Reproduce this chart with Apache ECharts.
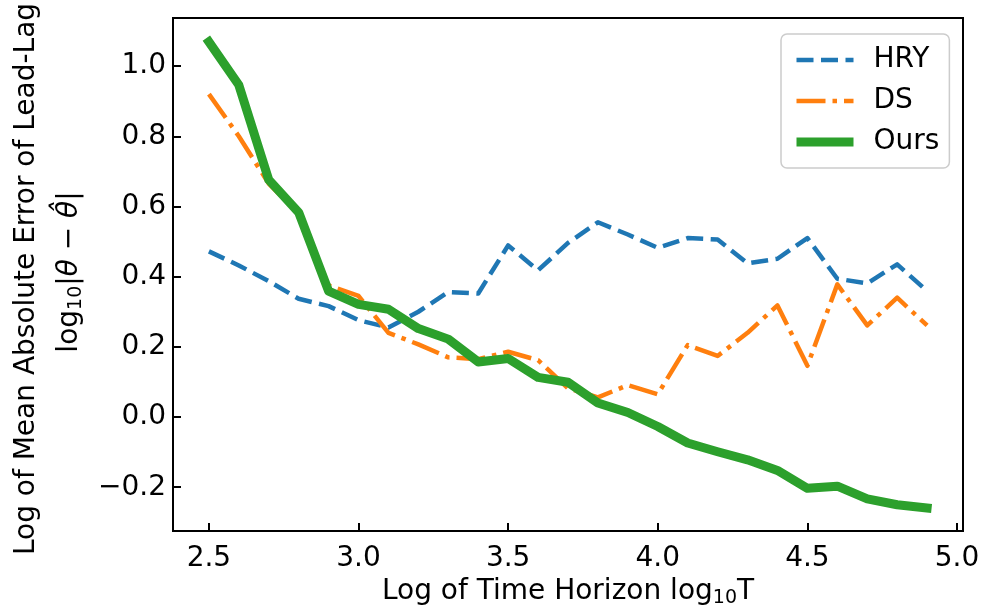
<!DOCTYPE html>
<html>
<head>
<meta charset="utf-8">
<script src="https://cdn.jsdelivr.net/npm/echarts@6/dist/echarts.min.js"></script>
<style>
html,body{margin:0;padding:0;background:#fff;}
#chart{width:984px;height:613px;}
</style>
</head>
<body>
<div id="chart"></div>
<script>
// ---- data ----
const xValues = [2.5, 2.6, 2.7, 2.8, 2.9, 3.0, 3.1, 3.2, 3.3, 3.4, 3.5, 3.6, 3.7, 3.8, 3.9, 4.0, 4.1, 4.2, 4.3, 4.4, 4.5, 4.6, 4.7, 4.8, 4.9];
const hry  = [0.472, 0.432, 0.387, 0.337, 0.316, 0.276, 0.255, 0.300, 0.356, 0.352, 0.489, 0.418, 0.496, 0.555, 0.520, 0.482, 0.510, 0.506, 0.438, 0.451, 0.510, 0.394, 0.381, 0.435, 0.359];
const ds   = [0.920, 0.800, 0.665, 0.580, 0.375, 0.345, 0.240, 0.207, 0.170, 0.165, 0.186, 0.162, 0.082, 0.056, 0.091, 0.065, 0.205, 0.174, 0.240, 0.318, 0.146, 0.378, 0.261, 0.340, 0.261];
const ours = [1.069, 0.946, 0.676, 0.583, 0.359, 0.321, 0.307, 0.252, 0.222, 0.157, 0.167, 0.113, 0.099, 0.040, 0.013, -0.027, -0.074, -0.099, -0.122, -0.152, -0.203, -0.197, -0.233, -0.250, -0.259];
const xTicks = [2.5, 3.0, 3.5, 4.0, 4.5, 5.0];
const yTicks = [-0.2, 0.0, 0.2, 0.4, 0.6, 0.8, 1.0];
const seriesNames = ['HRY', 'DS', 'Ours'];

const FONT = 'DejaVu Sans';
const FS = 28;
const pair = (ys) => xValues.map((x, i) => [x, ys[i]]);
const fmt = (v) => {
  if (Math.abs(v) < 1e-9) return '0.0';
  return v.toFixed(1).replace('-', '\u2212');
};

const styles = {
  HRY:  {color: '#1f77b4', width: 4.5, type: [17, 7.5], cap: 'butt', join: 'round'},
  DS:   {color: '#ff7f0e', width: 4.5, type: [29, 7, 4.5, 7], cap: 'butt', join: 'round'},
  Ours: {color: '#2ca02c', width: 9, type: 'solid', cap: 'square', join: 'round'}
};

const chart = echarts.init(document.getElementById('chart'), null, {renderer: 'canvas'});
chart.setOption({
  animation: false,
  backgroundColor: '#ffffff',
  grid: {
    left: 173, right: 21, top: 18, bottom: 81,
    show: true, borderColor: '#000', borderWidth: 2, backgroundColor: 'transparent'
  },
  xAxis: {
    type: 'value',
    min: 2.38, max: 5.02,
    splitLine: {show: false},
    axisLine: {show: true, onZero: false, lineStyle: {color: '#000', width: 2}},
    axisTick: {show: true, inside: true, length: 8, lineStyle: {color: '#000', width: 2}, customValues: xTicks},
    axisLabel: {
      customValues: xTicks, margin: 14,
      color: '#000', fontFamily: FONT, fontSize: FS,
      formatter: (v) => v.toFixed(1)
    },
    name: '{a|Log of Time Horizon log}{s|10}{a|T}',
    nameLocation: 'middle', nameGap: 42,
    nameTextStyle: {
      rich: {
        a: {fontFamily: FONT, fontSize: FS, color: '#000', lineHeight: 32, verticalAlign: 'middle'},
        s: {fontFamily: FONT, fontSize: 19, color: '#000', lineHeight: 15, verticalAlign: 'bottom'}
      }
    }
  },
  yAxis: {
    type: 'value',
    min: -0.325, max: 1.137,
    splitLine: {show: false},
    axisLine: {show: true, onZero: false, lineStyle: {color: '#000', width: 2}},
    axisTick: {show: true, inside: true, length: 8, lineStyle: {color: '#000', width: 2}, customValues: yTicks},
    axisLabel: {
      customValues: yTicks, margin: 7,
      color: '#000', fontFamily: FONT, fontSize: FS,
      formatter: fmt
    }
  },
  legend: {
    data: seriesNames.map((n) => ({
      name: n,
      itemStyle: {opacity: 0},
      lineStyle: {color: styles[n].color, width: styles[n].width, type: styles[n].type, cap: 'butt'}
    })),
    orient: 'vertical',
    left: 781, top: 34,
    padding: [11, 10, 11, 11],
    itemWidth: 57, itemHeight: 14, itemGap: 11,
    backgroundColor: '#fff',
    borderColor: '#cccccc', borderWidth: 1.5, borderRadius: 6,
    textStyle: {fontFamily: FONT, fontSize: FS, color: '#000', lineHeight: 30, padding: [0, 0, 0, 15]}
  },
  graphic: [
    {
      type: 'text', x: 27, y: 279, rotation: Math.PI / 2,
      style: {
        text: 'Log of Mean Absolute Error of Lead-Lag',
        fontFamily: FONT, fontSize: FS, fill: '#000',
        align: 'center', verticalAlign: 'middle',
        textAlign: 'center', textVerticalAlign: 'middle'
      }
    },
    {
      type: 'text', x: 70, y: 272, rotation: Math.PI / 2,
      style: {
        text: '{a|log}{s|10}{a||}{i|θ}{a| \u2212 }{i|θ\u0302}{a||}',
        rich: {
          a: {fontFamily: FONT, fontSize: FS, fill: '#000', lineHeight: 32, verticalAlign: 'middle'},
          i: {fontFamily: FONT, fontSize: FS, fill: '#000', fontStyle: 'italic', lineHeight: 32, verticalAlign: 'middle'},
          s: {fontFamily: FONT, fontSize: 19, fill: '#000', lineHeight: 15, verticalAlign: 'bottom'}
        },
        align: 'center', verticalAlign: 'middle',
        textAlign: 'center', textVerticalAlign: 'middle'
      }
    }
  ],
  series: seriesNames.map((n, k) => ({
    name: n, type: 'line', data: pair([hry, ds, ours][k]),
    symbol: 'none', showSymbol: false, z: 2 + k,
    color: styles[n].color,
    lineStyle: styles[n]
  }))
});
</script>
</body>
</html>
